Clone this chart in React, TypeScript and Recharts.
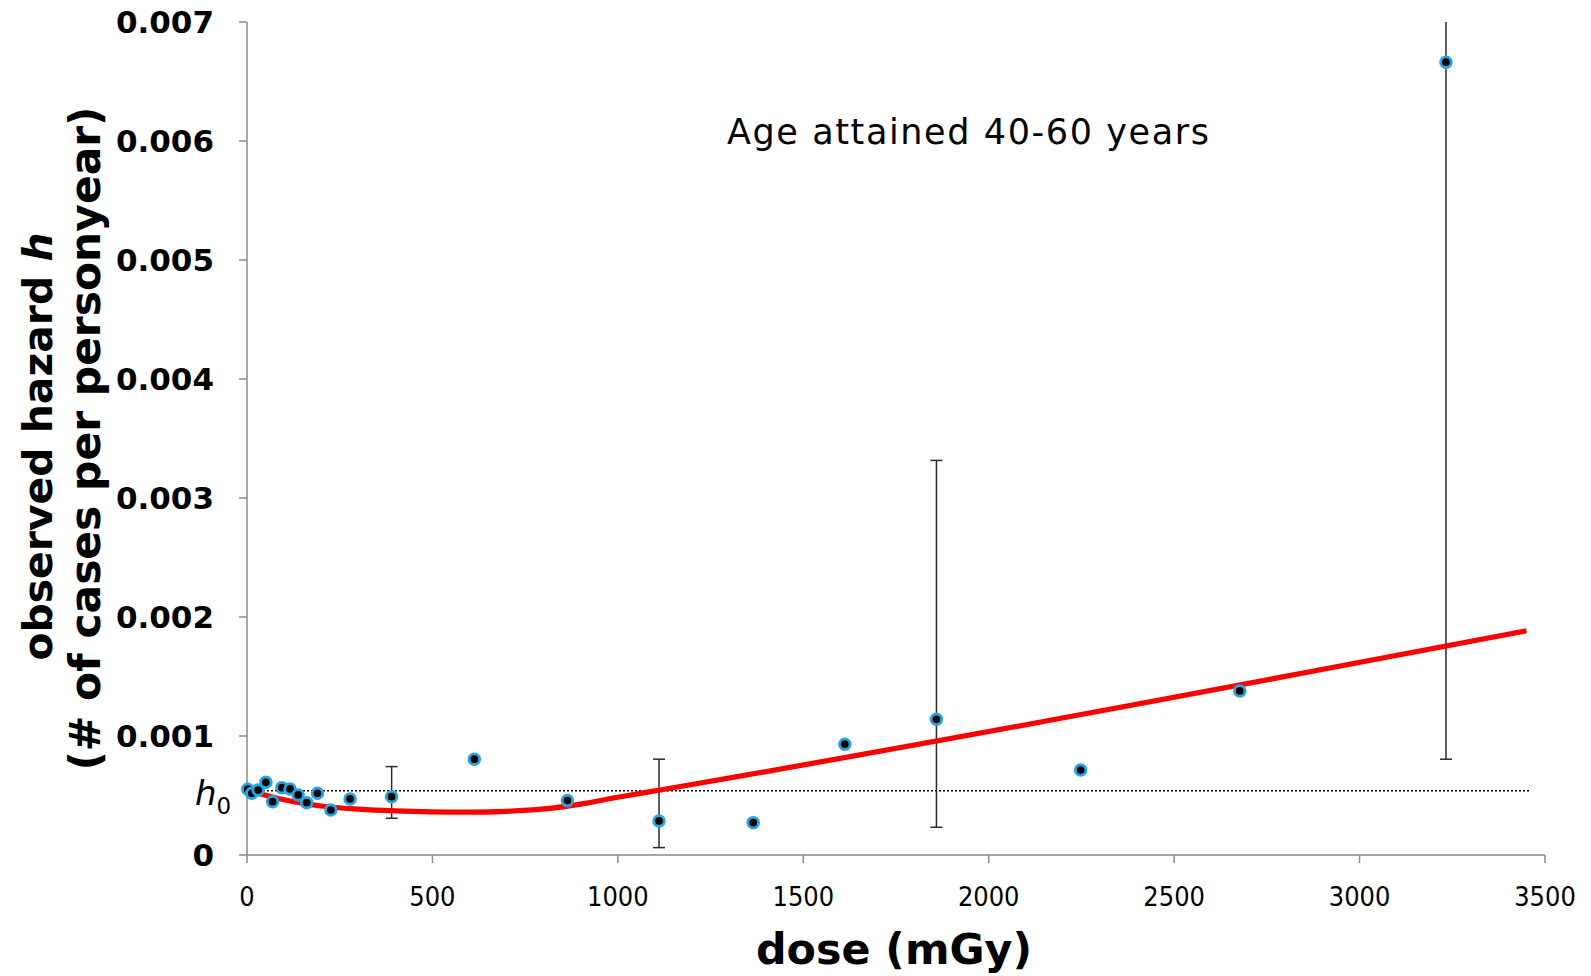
import React from "react";
import {
  ComposedChart,
  Scatter,
  Line,
  XAxis,
  YAxis,
  ReferenceLine,
  ErrorBar,
} from "recharts";

// observed hazard per dose group
const doses = [2, 13, 30, 51, 69, 94, 116, 138, 161, 190, 226, 278, 390, 613, 864, 1111, 1365, 1612, 1859, 2248, 2677, 3233];
const hazards = [
  0.000553, 0.000519, 0.000546, 0.000611, 0.000448, 0.000566, 0.000555, 0.000505, 0.00044, 0.000519, 0.000378,
  0.000471, 0.00049, 0.000805, 0.000457, 0.000286, 0.000272, 0.000931, 0.00114, 0.000714, 0.001379, 0.006662,
];

// confidence intervals (only drawn for a few groups); last one runs off the top
const errDoses = [390, 1111, 1859, 3233];
const errHazards = [0.00049, 0.000286, 0.00114, 0.006662];
const errLow = [0.000309, 0.000062, 0.000233, 0.000805];
const errHigh = [0.000743, 0.000805, 0.003316, 0.007];
const errTopCap = [true, true, true, false];

// fitted model curve
const fitDoses = [0, 100, 200, 300, 400, 500, 600, 700, 800, 900, 1000, 1114, 3450];
const fitHazards = [
  0.000547, 0.000464, 0.000412, 0.000386, 0.000371, 0.000363, 0.00036, 0.000367, 0.000387, 0.000428, 0.000485,
  0.000546, 0.001884,
];

const H0 = 0.00054;
const xTicks = [0, 500, 1000, 1500, 2000, 2500, 3000, 3500];
const yTicks = [0, 0.001, 0.002, 0.003, 0.004, 0.005, 0.006, 0.007];
const yTickLabels = ["0", "0.001", "0.002", "0.003", "0.004", "0.005", "0.006", "0.007"];

const obsData = doses.map((x, i) => ({ x, y: hazards[i] }));
const errRows = errDoses.map((x, i) => ({
  x,
  y: errHazards[i],
  err: [errHazards[i] - errLow[i], errHigh[i] - errHazards[i]],
  lowPart: [errHazards[i] - errLow[i], 0],
  highPart: [0, errHigh[i] - errHazards[i]],
}));
const cappedErr = errRows.filter((_, i) => errTopCap[i]);
const openErr = errRows.filter((_, i) => !errTopCap[i]);
const fitData = fitDoses.map((x, i) => ({ x, y: fitHazards[i] }));

const axisGray = "#8a8a8a";
const barColor = "#2b2b2b";

function Dot({ cx, cy }: any) {
  return <circle cx={cx} cy={cy} r={5.3} fill="#000" stroke="#29a4e0" strokeWidth={2.9} />;
}

function XTick({ x, y, payload }: any) {
  const label = String(payload.value);
  return (
    <text
      x={x}
      y={y}
      dy="0.71em"
      textAnchor="middle"
      fontSize={26}
      fontFamily="DejaVu Sans"
      fill="#000"
      textLength={label.length * 15.4}
      lengthAdjust="spacingAndGlyphs"
    >
      {label}
    </text>
  );
}

function YTitle({ viewBox }: any) {
  const cy = viewBox.y + viewBox.height / 2;
  return (
    <g fontFamily="DejaVu Sans" fontWeight="bold" fontSize={41} fill="#000">
      <text
        transform={`translate(52, ${cy + 8}) rotate(-90)`}
        textAnchor="middle"
        textLength={428}
        lengthAdjust="spacingAndGlyphs"
      >
        observed hazard <tspan fontStyle="italic">h</tspan>
      </text>
      <text
        transform={`translate(100, ${cy}) rotate(-90)`}
        textAnchor="middle"
        fontSize={42}
        textLength={664}
        lengthAdjust="spacingAndGlyphs"
      >
        (# of cases per personyear)
      </text>
    </g>
  );
}

function XTitle({ viewBox }: any) {
  const cx = viewBox.x + viewBox.width / 2;
  return (
    <text
      x={cx - 2}
      y={964}
      textAnchor="middle"
      fontFamily="DejaVu Sans"
      fontWeight="bold"
      fontSize={42}
      fill="#000"
      textLength={276}
      lengthAdjust="spacingAndGlyphs"
    >
      dose (mGy)
    </text>
  );
}

function H0Label({ viewBox }: any) {
  return (
    <text x={viewBox.x - 52} y={viewBox.y + 14} fontFamily="DejaVu Sans" fill="#000">
      <tspan fontSize={34} fontStyle="italic">h</tspan>
      <tspan fontSize={23} dy={9}>0</tspan>
    </text>
  );
}

export default function App() {
  return (
    <div style={{ position: "absolute", left: 0, top: 0, width: 1591, height: 976, background: "#fff" }}>
      <ComposedChart width={1591} height={976} margin={{ top: 22, right: 46, bottom: 0, left: 0 }}>
        <XAxis
          type="number"
          dataKey="x"
          domain={[0, 3500]}
          ticks={xTicks}
          height={121}
          axisLine={{ stroke: axisGray, strokeWidth: 1.5 }}
          tickLine={{ stroke: axisGray, strokeWidth: 1.5 }}
          tickSize={8}
          tickMargin={25}
          tick={<XTick />}
          label={<XTitle />}
        />
        <YAxis
          type="number"
          dataKey="y"
          domain={[0, 0.007]}
          ticks={yTicks}
          width={247}
          axisLine={{ stroke: axisGray, strokeWidth: 1.5 }}
          tickLine={{ stroke: axisGray, strokeWidth: 1.5 }}
          tickSize={8}
          tickMargin={25}
          tickFormatter={(v: number) => yTickLabels[yTicks.indexOf(v)] ?? String(v)}
          tick={{ fontSize: 31, fontWeight: "bold", fill: "#000", fontFamily: "DejaVu Sans" }}
          label={<YTitle />}
        />
        <ReferenceLine
          segment={[{ x: 0, y: H0 }, { x: 3460, y: H0 }]}
          stroke="#000"
          strokeWidth={1.5}
          strokeDasharray="2 2"
          label={<H0Label />}
        />
        <Scatter data={cappedErr} dataKey="y" shape={() => <g />} isAnimationActive={false}>
          <ErrorBar dataKey="err" direction="y" width={6} stroke={barColor} strokeWidth={1.5} />
        </Scatter>
        <Scatter data={openErr} dataKey="y" shape={() => <g />} isAnimationActive={false}>
          <ErrorBar dataKey="lowPart" direction="y" width={6} stroke={barColor} strokeWidth={1.5} />
          <ErrorBar dataKey="highPart" direction="y" width={0} stroke={barColor} strokeWidth={1.5} />
        </Scatter>
        <Line
          data={fitData}
          dataKey="y"
          type="monotone"
          stroke="#ff0000"
          strokeWidth={5.2}
          dot={false}
          activeDot={false}
          isAnimationActive={false}
        />
        <Scatter data={obsData} dataKey="y" shape={<Dot />} isAnimationActive={false} />
      </ComposedChart>
      <svg width={1591} height={976} style={{ position: "absolute", left: 0, top: 0, pointerEvents: "none" }}>
        <text
          x={727}
          y={144}
          fontFamily="DejaVu Sans"
          fontSize={35}
          fill="#000"
          textLength={482}
          lengthAdjust="spacing"
        >
          Age attained 40-60 years
        </text>
      </svg>
    </div>
  );
}
